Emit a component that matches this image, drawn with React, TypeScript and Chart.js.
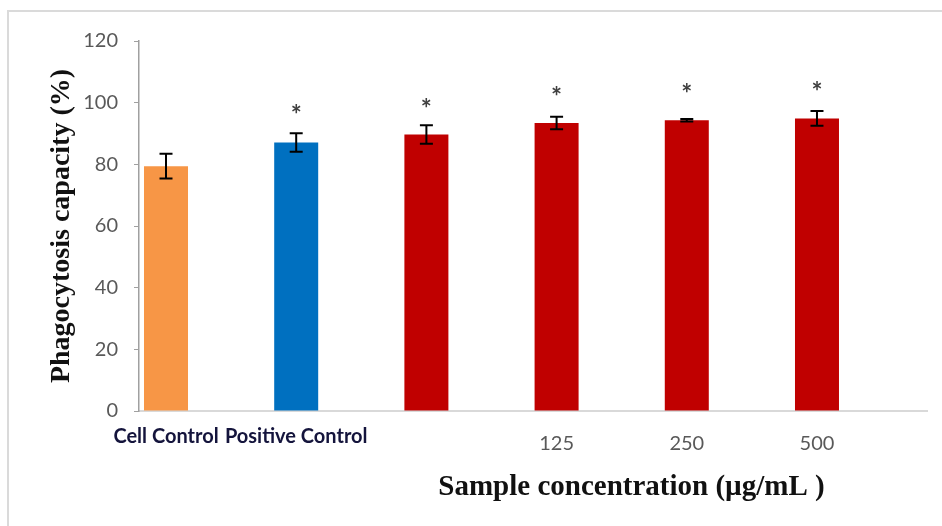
import React, { useEffect, useRef } from "react";
import { Chart, registerables } from "chart.js";

Chart.register(...registerables);

const categories = ["Cell Control", "Positive Control", "", "125", "250", "500"];
const means = [79.4, 87.1, 89.7, 93.4, 94.3, 94.9];
const errors = [4.0, 3.0, 3.0, 2.0, 0.4, 2.4];
const starLevels: (number | null)[] = [null, 97.6, 99.6, 103.5, 104.3, 105.0];
const barColors = ["#F79646", "#0070C0", "#C00000", "#C00000", "#C00000", "#C00000"];
const yAxisTitle = "Phagocytosis capacity (%)";
const xAxisTitle = "Sample concentration (µg/mL )";

const isNumericLabel = (s: string) => /^\d+$/.test(s);

const overlayPlugin = {
  id: "errorBarsAndStars",
  afterDatasetsDraw(chart: any) {
    const ctx = chart.ctx;
    const meta = chart.getDatasetMeta(0);
    const yScale = chart.scales.y;
    ctx.save();
    ctx.strokeStyle = "#000000";
    ctx.lineWidth = 2;
    meta.data.forEach((bar: any, i: number) => {
      const x = bar.x;
      const top = yScale.getPixelForValue(means[i] + errors[i]);
      const bot = yScale.getPixelForValue(means[i] - errors[i]);
      const cap = 6.5;
      ctx.beginPath();
      ctx.moveTo(x, top);
      ctx.lineTo(x, bot);
      ctx.moveTo(x - cap, top);
      ctx.lineTo(x + cap, top);
      ctx.moveTo(x - cap, bot);
      ctx.lineTo(x + cap, bot);
      ctx.stroke();
      const s = starLevels[i];
      if (s != null) {
        ctx.fillStyle = "#404040";
        ctx.font = "bold 26px Lato";
        ctx.textAlign = "center";
        ctx.textBaseline = "alphabetic";
        ctx.fillText("*", x, yScale.getPixelForValue(s) + 14);
      }
    });
    ctx.restore();
  },
  afterDraw(chart: any) {
    const ctx = chart.ctx;
    const area = chart.chartArea;
    ctx.save();
    ctx.fillStyle = "#111111";
    ctx.font = "bold 29px 'Liberation Serif'";
    ctx.textAlign = "center";
    ctx.textBaseline = "middle";
    ctx.fillText(xAxisTitle, area.left + (area.right - area.left) * 0.625, area.bottom + 77);
    ctx.restore();
  },
};

export default function App() {
  const ref = useRef<HTMLCanvasElement>(null);
  useEffect(() => {
    if (!ref.current) return;
    const chart = new Chart(ref.current, {
      type: "bar",
      data: {
        datasets: [
          {
            data: means.map((v, i) => ({ x: i, y: v })),
            backgroundColor: barColors,
            borderWidth: 0,
            categoryPercentage: 1,
            barPercentage: 0.338,
          } as any,
        ],
      },
      plugins: [overlayPlugin],
      options: {
        responsive: false,
        animation: false,
        layout: { padding: { left: 0, top: 41, right: 15, bottom: 0 } },
        plugins: {
          legend: { display: false },
          tooltip: { enabled: false },
        },
        scales: {
          x: {
            type: "linear",
            min: -0.2074,
            max: 5.845,
            offset: false,
            grid: { display: false, offset: false },
            border: { display: true, color: "#d9d9d9", width: 2 },
            ticks: {
              stepSize: 1,
              includeBounds: false,
              autoSkip: false,
              maxRotation: 0,
              minRotation: 0,
              padding: 8,
              callback: (v: any) => categories[v] ?? "",
              color: (c: any) =>
                isNumericLabel(categories[c.tick?.value] ?? "") ? "#595959" : "#14143c",
              font: (c: any) =>
                isNumericLabel(categories[c.tick?.value] ?? "")
                  ? { family: "Lato", size: 20, weight: "normal", lineHeight: "34px" }
                  : { family: "Lato", size: 20, weight: "bold", lineHeight: "20px" },
            },
            afterFit: (s: any) => {
              s.height = 115;
            },
          } as any,
          y: {
            min: 0,
            max: 120,
            grid: {
              display: true,
              drawOnChartArea: false,
              drawTicks: true,
              tickLength: 5,
              color: "#a0a0a0",
            },
            border: { display: true, color: "#a0a0a0", width: 1.5 },
            ticks: {
              stepSize: 20,
              padding: 16,
              color: "#595959",
              font: { family: "Lato", size: 20 },
            },
            title: {
              display: true,
              text: yAxisTitle,
              color: "#111111",
              font: { family: "Liberation Serif", size: 28, weight: "bold", lineHeight: 1.2 },
              padding: { top: 45, bottom: 0 },
            },
            afterFit: (s: any) => {
              s.width = 139;
            },
          } as any,
        },
      },
    });
    return () => chart.destroy();
  }, []);

  return (
    <div style={{ position: "absolute", left: 0, top: 0, width: 942, height: 526, background: "#ffffff" }}>
      <div
        style={{
          position: "absolute",
          left: 7,
          top: 10,
          width: 935,
          height: 516,
          borderTop: "2px solid #dadada",
          borderLeft: "2px solid #dadada",
          boxSizing: "border-box",
        }}
      />
      <canvas ref={ref} width={942} height={526} style={{ position: "absolute", left: 0, top: 0 }} />
    </div>
  );
}
